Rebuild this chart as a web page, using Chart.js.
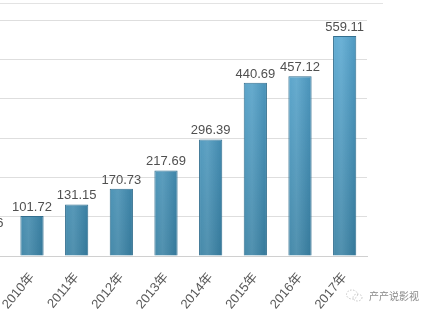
<!DOCTYPE html>
<html>
<head>
<meta charset="utf-8">
<script src="https://cdn.jsdelivr.net/npm/chart.js@4"></script>
<style>
  html, body { margin: 0; padding: 0; background: #fff; overflow: hidden; }
  body { width: 432px; height: 330px; position: relative; }
  #wrap { position: absolute; left: -35px; top: 0; width: 467px; height: 330px; }
  #frame { position: absolute; left: 0; top: 3px; width: 383px; border-top: 1px solid #e3e3e3; }
  #mark { position: absolute; left: 345px; top: 288px; font: 10px "Noto Sans CJK SC", sans-serif; color: #8a8a8a; display: flex; align-items: center; gap: 6px; white-space: nowrap; }
</style>
</head>
<body>
<div id="frame"></div>
<div id="wrap"><canvas id="chart" width="467" height="330"></canvas></div>
<div id="mark">
  <svg width="18" height="13" viewBox="0 0 18 13"><ellipse cx="7" cy="5.5" rx="5.5" ry="4.5" fill="none" stroke="#c4c4c4" stroke-dasharray="1.5 1.5"/><ellipse cx="12.5" cy="8.5" rx="4.5" ry="3.5" fill="none" stroke="#c4c4c4" stroke-dasharray="1.5 1.5"/></svg>
  <span>产产说影视</span>
</div>
<script>
const years = ['2009年', '2010年', '2011年', '2012年', '2013年', '2014年', '2015年', '2016年', '2017年'];
const boxOffice = [62.06, 101.72, 131.15, 170.73, 217.69, 296.39, 440.69, 457.12, 559.11];

// numbers above each bar
const valueLabels = {
  id: 'valueLabels',
  afterDatasetsDraw(chart) {
    const ctx = chart.ctx;
    const meta = chart.getDatasetMeta(0);
    ctx.save();
    ctx.font = '13px "Liberation Sans", sans-serif';
    ctx.fillStyle = '#505050';
    ctx.textAlign = 'center';
    ctx.textBaseline = 'bottom';
    meta.data.forEach((bar, i) => {
      ctx.fillText(boxOffice[i].toFixed(2), bar.x, bar.y - 2);
    });
    ctx.restore();
  }
};

// soft side-to-side shine over the bars
const barShine = {
  id: 'barShine',
  afterDatasetDraw(chart) {
    const ctx = chart.ctx;
    chart.getDatasetMeta(0).data.forEach((bar) => {
      const l = bar.x - bar.width / 2, r = bar.x + bar.width / 2;
      const g = ctx.createLinearGradient(l, 0, r, 0);
      g.addColorStop(0, 'rgba(255,255,255,0.05)');
      g.addColorStop(0.35, 'rgba(255,255,255,0.12)');
      g.addColorStop(1, 'rgba(0,40,70,0.12)');
      ctx.save();
      ctx.fillStyle = g;
      ctx.fillRect(l + 1, bar.y + 1, bar.width - 2, bar.base - bar.y - 1);
      ctx.restore();
    });
  }
};

const barFill = (c) => {
  const area = c.chart.chartArea;
  if (!area) return '#4a97c0';
  const g = c.chart.ctx.createLinearGradient(0, area.top, 0, area.bottom);
  g.addColorStop(0, '#5aaad4');
  g.addColorStop(1, '#3a82a4');
  return g;
};

new Chart('chart', {
  type: 'bar',
  data: {
    labels: years,
    datasets: [{
      data: boxOffice,
      backgroundColor: barFill,
      borderColor: '#336f8f',
      borderWidth: 1,
      categoryPercentage: 1,
      barPercentage: 0.52
    }]
  },
  options: {
    responsive: false,
    animation: false,
    devicePixelRatio: 1,
    layout: { padding: { left: 0, right: 65, top: 20, bottom: 0 } },
    plugins: { legend: { display: false }, tooltip: { enabled: false } },
    scales: {
      x: {
        grid: { display: false },
        border: { display: true, color: '#d0d0d0' },
        ticks: {
          color: '#5a5a5a',
          font: { family: '"Liberation Sans", "Noto Sans CJK SC", sans-serif', size: 13 },
          minRotation: 50,
          maxRotation: 50,
          padding: 6
        },
        afterFit: (s) => { s.height = 74; s.paddingLeft = 0; s.paddingRight = 0; }
      },
      y: {
        min: 0,
        max: 600,
        ticks: { display: false, stepSize: 100 },
        border: { display: false },
        grid: { color: '#dedede', drawTicks: false },
        afterFit: (s) => { s.width = 0; }
      }
    }
  },
  plugins: [barShine, valueLabels]
});
</script>
</body>
</html>
